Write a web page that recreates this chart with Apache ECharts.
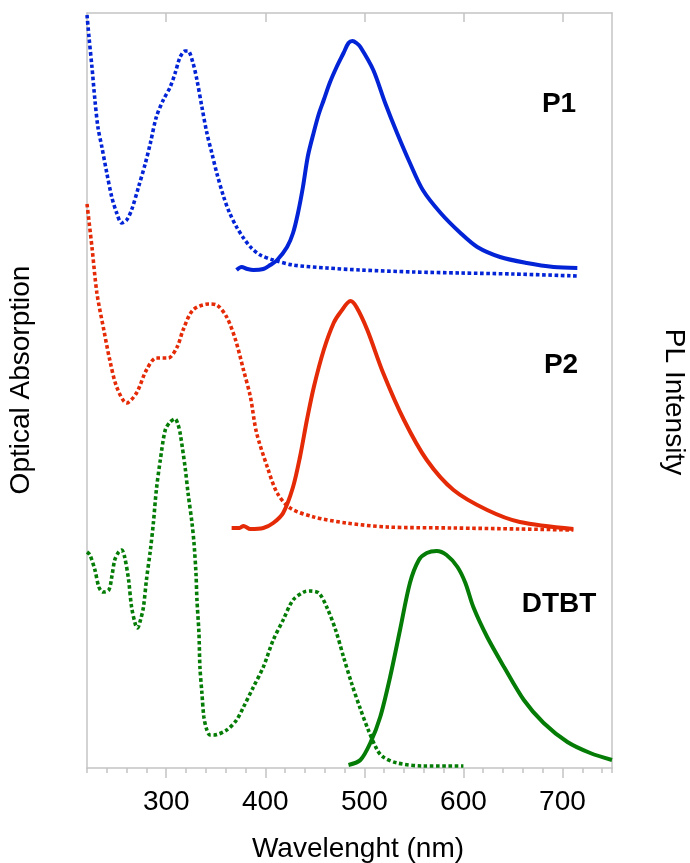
<!DOCTYPE html>
<html>
<head>
<meta charset="utf-8">
<title>Absorption and PL spectra</title>
<script src="https://cdn.jsdelivr.net/npm/echarts@6/dist/echarts.min.js"></script>
<style>
  html, body { margin: 0; padding: 0; background: #fff; }
  #chart { width: 690px; height: 863px; }
</style>
</head>
<body>
<div id="chart"></div>
<script>
// Wavelength axis (nm)
const xMin = 220;
const xMax = 750;
const majorTicks = [300, 400, 500, 600, 700];

// Spectra as [wavelength nm, intensity a.u.] (curves are vertically offset)
const p1Absorption = [
  [220, 753], [222, 731], [225, 701], [228, 668], [231, 641], [235, 621], [240, 595],
  [245, 571], [250, 555], [255, 545], [260, 548], [265, 558], [272, 581], [279, 605],
  [284, 625], [290, 651], [297, 668], [304, 681], [309, 695], [314, 711], [319, 717],
  [322, 717], [327, 705], [331, 688], [336, 661], [341, 635], [346, 615], [351, 595],
  [358, 571], [364, 555], [371, 541], [378, 530], [386, 520], [395, 513], [408, 508],
  [428, 503], [462, 500], [496, 498], [550, 496], [597, 495], [650, 494], [715, 492]
];
const p1PL = [
  [371, 498], [376, 501], [382, 499], [388, 498], [398, 499], [405, 503], [412, 508],
  [422, 521], [428, 535], [433, 555], [438, 581], [443, 612], [449, 636], [454, 654],
  [459, 668], [465, 685], [472, 701], [479, 715], [484, 725], [488, 727], [492, 725],
  [496, 721], [509, 698], [521, 665], [533, 635], [546, 605], [559, 578], [577, 555],
  [597, 535], [614, 521], [637, 511], [664, 505], [691, 501], [715, 500]
];
const p2Absorption = [
  [220, 564], [225, 521], [230, 475], [237, 438], [243, 408], [250, 381], [260, 365],
  [270, 375], [280, 398], [290, 410], [302, 410], [311, 421], [317, 438], [327, 458],
  [343, 464], [351, 463], [361, 451], [370, 428], [378, 398], [385, 371], [391, 336],
  [402, 301], [412, 275], [425, 260], [449, 251], [482, 245], [523, 241], [590, 240],
  [657, 239], [711, 238]
];
const p2PL = [
  [366, 240], [374, 240], [378, 242], [385, 239], [398, 240], [408, 245], [418, 255],
  [428, 281], [435, 311], [442, 348], [449, 381], [459, 418], [469, 445], [476, 456],
  [486, 467], [492, 461], [503, 438], [519, 395], [540, 348], [563, 308], [590, 278],
  [624, 258], [657, 246], [711, 239]
];
const dtbtAbsorption = [
  [220, 216], [223, 213], [228, 198], [232, 181], [236, 176], [242, 178], [245, 191],
  [248, 208], [252, 216], [255, 218], [258, 211], [262, 188], [265, 161], [269, 143],
  [271, 140], [274, 148], [277, 161], [280, 188], [284, 218], [287, 245], [290, 278],
  [294, 308], [299, 338], [304, 346], [309, 349], [312, 343], [314, 335], [319, 301],
  [322, 275], [326, 245], [328, 225], [330, 195], [331, 168], [333, 135], [334, 101],
  [336, 75], [338, 51], [341, 38], [344, 33], [348, 33], [361, 38], [371, 48],
  [378, 61], [388, 81], [398, 101], [408, 128], [418, 148], [428, 168], [439, 176],
  [445, 177], [454, 175], [462, 161], [471, 138], [479, 111], [487, 85], [496, 59],
  [504, 38], [513, 18], [519, 11], [533, 5], [560, 2], [600, 2]
];
const dtbtPL = [
  [484, 3], [496, 8], [506, 25], [516, 51], [526, 91], [536, 138], [546, 185],
  [555, 208], [563, 215], [573, 217], [583, 213], [594, 201], [602, 185], [610, 161],
  [624, 131], [641, 101], [661, 68], [681, 45], [705, 26], [728, 15], [750, 8]
];

const sampleLabels = [
  { text: 'P1', x: 559, y: 104 },
  { text: 'P2', x: 561, y: 365 },
  { text: 'DTBT', x: 559, y: 604 }
];

const BLUE = '#0324d6';
const RED = '#e42a06';
const GREEN = '#047c06';
const AXIS_GREY = '#c4c4c4';
const FONT = '"Liberation Sans", Arial, sans-serif';

function absorption(name, data, color) {
  return {
    name: name, type: 'line', data: data, smooth: 0.3, showSymbol: false,
    xAxisIndex: 0, yAxisIndex: 0,
    lineStyle: { color: color, width: 3.6, type: [3.6, 2.6], cap: 'butt' },
    emphasis: { disabled: true }
  };
}
function pl(name, data, color) {
  return {
    name: name, type: 'line', data: data, smooth: 0.3, showSymbol: false,
    xAxisIndex: 0, yAxisIndex: 1,
    lineStyle: { color: color, width: 4 },
    emphasis: { disabled: true }
  };
}

const chart = echarts.init(document.getElementById('chart'), null, { renderer: 'canvas' });

chart.setOption({
  animation: false,
  backgroundColor: '#fff',
  grid: { left: 87, right: 78, top: 13, bottom: 95, containLabel: false },
  xAxis: [
    {
      type: 'value', position: 'bottom', min: xMin, max: xMax, interval: 20,
      axisLine: { show: true, lineStyle: { color: AXIS_GREY, width: 1.5 } },
      axisTick: { show: true, inside: false, length: 5, lineStyle: { color: AXIS_GREY, width: 1.5 } },
      axisLabel: {
        show: true, customValues: majorTicks, margin: 20,
        fontSize: 28, color: '#000', fontFamily: FONT
      },
      splitLine: { show: false }
    },
    {
      type: 'value', position: 'bottom', min: xMin, max: xMax,
      axisLine: { show: false },
      axisTick: { show: true, customValues: majorTicks, length: 10, lineStyle: { color: AXIS_GREY, width: 1.5 } },
      axisLabel: { show: false },
      splitLine: { show: false }
    },
    {
      type: 'value', position: 'top', min: xMin, max: xMax,
      axisLine: { show: true, lineStyle: { color: AXIS_GREY, width: 1.5 } },
      axisTick: { show: true, inside: true, customValues: majorTicks, length: 9, lineStyle: { color: AXIS_GREY, width: 1.5 } },
      axisLabel: { show: false },
      splitLine: { show: false }
    }
  ],
  yAxis: [
    {
      type: 'value', position: 'left', min: 0, max: 755,
      axisLine: { show: true, lineStyle: { color: AXIS_GREY, width: 1.5 } },
      axisTick: { show: false }, axisLabel: { show: false }, splitLine: { show: false }
    },
    {
      type: 'value', position: 'right', min: 0, max: 755,
      axisLine: { show: true, lineStyle: { color: AXIS_GREY, width: 1.5 } },
      axisTick: { show: false }, axisLabel: { show: false }, splitLine: { show: false }
    }
  ],
  series: [
    absorption('P1 absorption', p1Absorption, BLUE),
    pl('P1 PL', p1PL, BLUE),
    absorption('P2 absorption', p2Absorption, RED),
    pl('P2 PL', p2PL, RED),
    absorption('DTBT absorption', dtbtAbsorption, GREEN),
    pl('DTBT PL', dtbtPL, GREEN)
  ],
  graphic: [
    {
      type: 'text', x: 358, y: 849,
      style: { text: 'Wavelenght (nm)', fontSize: 28, fontFamily: FONT, fill: '#000', align: 'center', verticalAlign: 'middle' }
    },
    {
      type: 'text', x: 21, y: 380, rotation: Math.PI / 2,
      style: { text: 'Optical Absorption', fontSize: 28, fontFamily: FONT, fill: '#000', align: 'center', verticalAlign: 'middle' }
    },
    {
      type: 'text', x: 674, y: 402, rotation: -Math.PI / 2,
      style: { text: 'PL Intensity', fontSize: 28, fontFamily: FONT, fill: '#000', align: 'center', verticalAlign: 'middle' }
    }
  ].concat(sampleLabels.map(function (l) {
    return {
      type: 'text', x: l.x, y: l.y,
      style: { text: l.text, fontSize: 28, fontWeight: 'bold', fontFamily: FONT, fill: '#000', align: 'center', verticalAlign: 'middle' }
    };
  }))
});
</script>
</body>
</html>
